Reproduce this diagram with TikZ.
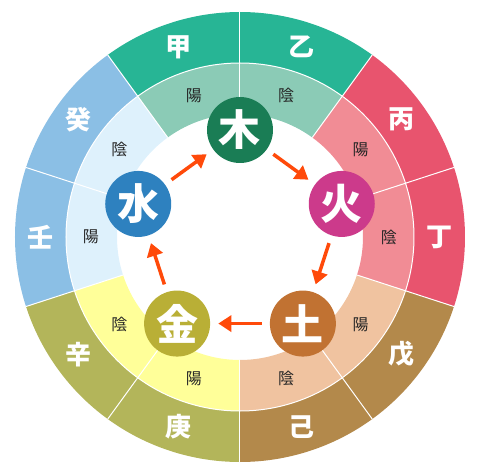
\documentclass[tikz,border=0pt]{standalone}
\usepackage{fontspec}
\newfontfamily\cjk{Noto Sans CJK JP}
\usetikzlibrary{arrows.meta}
\definecolor{woodout}{HTML}{27B595}
\definecolor{woodin}{HTML}{8BCBB6}
\definecolor{woodc}{HTML}{1A7D55}
\definecolor{fireout}{HTML}{E8546E}
\definecolor{firein}{HTML}{F18C95}
\definecolor{firec}{HTML}{CC3A8B}
\definecolor{earthout}{HTML}{B3894B}
\definecolor{earthin}{HTML}{F0C3A0}
\definecolor{earthc}{HTML}{C17232}
\definecolor{metalout}{HTML}{B3B55A}
\definecolor{metalin}{HTML}{FFFF99}
\definecolor{metalc}{HTML}{B9AF36}
\definecolor{waterout}{HTML}{8BBFE5}
\definecolor{waterin}{HTML}{DEF1FC}
\definecolor{waterc}{HTML}{2E81BF}
\definecolor{arrowred}{HTML}{FF4A0A}

\begin{document}
\begin{tikzpicture}[x=1pt,y=1pt,
	divider/.style={white,line width=1pt},
	stem/.style={text=white,font={\cjk\bfseries\fontsize{26}{26}\selectfont}},
	yinyang/.style={text=black!85,font={\cjk\fontsize{16}{16}\selectfont}},
	element/.style={circle,minimum size=66pt,inner sep=0pt,text=white,font={\cjk\bfseries\fontsize{42}{42}\selectfont}},
	flow/.style={line width=3.5pt,draw=arrowred,-{Triangle[length=13pt,width=16pt]},shorten >=8pt,shorten <=8pt}]
	\useasboundingbox (-240,-237) rectangle (240,237);
	
	%RINGS
	\foreach \a/\o/\i/\s/\y [count=\n] in {90/woodout/woodin/甲/陽, 54/woodout/woodin/乙/陰,
		18/fireout/firein/丙/陽, -18/fireout/firein/丁/陰, -54/earthout/earthin/戊/陽, -90/earthout/earthin/己/陰,
		-126/metalout/metalin/庚/陽, -162/metalout/metalin/辛/陰, 162/waterout/waterin/壬/陽, 126/waterout/waterin/癸/陰}{
	\fill[\o] (\a:174) arc[start angle=\a, end angle=\a+36, radius=174] -- (\a+36:225) arc[start angle=\a+36, end angle=\a, radius=225] -- cycle;
	\fill[\i] (\a:123) arc[start angle=\a, end angle=\a+36, radius=123] -- (\a+36:174) arc[start angle=\a+36, end angle=\a, radius=174] -- cycle;
	\node[stem] (s\n) at (\a+18:199.5) {\s};	%stems
	\node[yinyang] (y\n) at (\a+18:149) {\y};	%yin and yang
	}
	
	%WHITE LINES
	\foreach \a in {0,...,9}
	\draw[divider] (90+36*\a:123)--(90+36*\a:225);
	\draw[divider] (0,0) circle (174);
	
	%ELEMENTS
	\node[element,fill=woodc] (wood) at (90:107) {木};
	\node[element,fill=firec] (fire) at (18:107) {火};
	\node[element,fill=earthc] (earth) at (-54:107) {土};
	\node[element,fill=metalc] (metal) at (-126:107) {金};
	\node[element,fill=waterc] (water) at (162:107) {水};
	
	%ARROWS
	\draw[flow] (wood)--(fire);
	\draw[flow] (fire)--(earth);
	\draw[flow] (earth)--(metal);
	\draw[flow] (metal)--(water);
	\draw[flow] (water)--(wood);
\end{tikzpicture}
\end{document}
